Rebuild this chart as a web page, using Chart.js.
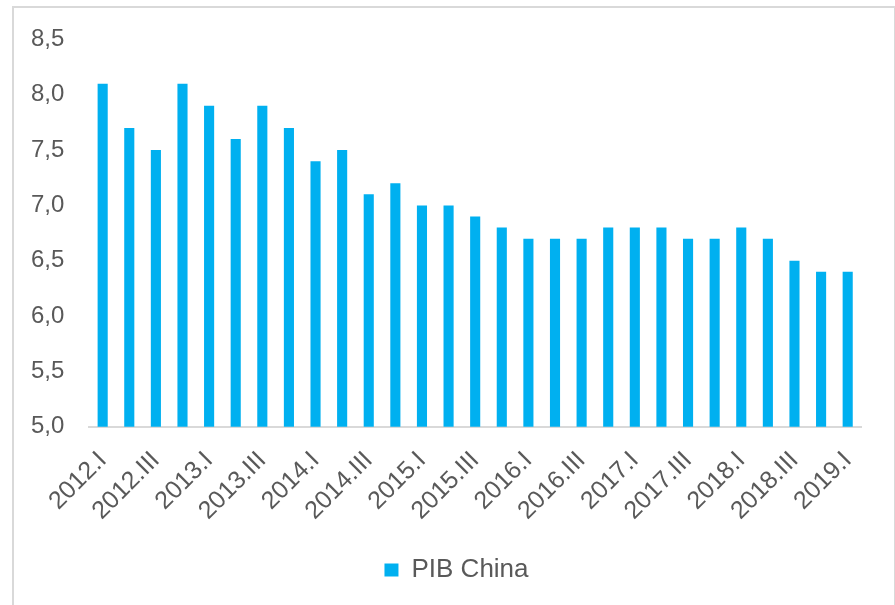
<!DOCTYPE html>
<html>
<head>
<meta charset="utf-8">
<script src="https://cdn.jsdelivr.net/npm/chart.js@4.4.0/dist/chart.umd.min.js"></script>
<style>
	body { margin: 0; background: #fff; overflow: hidden; }
	#frame { position: absolute; left: 12px; top: 6px; width: 880px; height: 640px; border: 2px solid #d9d9d9; }
	#wrap { position: absolute; left: 0; top: 0; width: 895px; height: 605px; }
</style>
</head>
<body>
<div id="frame"></div>
<div id="wrap"><canvas id="myChart" width="895" height="605"></canvas></div>
<script>
var quarters = ["2012.I", "2012.II", "2012.III", "2012.IV",
	"2013.I", "2013.II", "2013.III", "2013.IV",
	"2014.I", "2014.II", "2014.III", "2014.IV",
	"2015.I", "2015.II", "2015.III", "2015.IV",
	"2016.I", "2016.II", "2016.III", "2016.IV",
	"2017.I", "2017.II", "2017.III", "2017.IV",
	"2018.I", "2018.II", "2018.III", "2018.IV",
	"2019.I"]
var pibChina = [8.1, 7.7, 7.5, 8.1, 7.9, 7.6, 7.9, 7.7, 7.4, 7.5, 7.1, 7.2, 7.0, 7.0, 6.9,
	6.8, 6.7, 6.7, 6.7, 6.8, 6.8, 6.8, 6.7, 6.7, 6.8, 6.7, 6.5, 6.4, 6.4]
var yMin = 5.0
var yMax = 8.5
var yStep = 0.5

var grey = "#595959"
var fontFamily = "'Liberation Sans', Arial, sans-serif"

// nudge the legend a little to the right, like the original
var legendShift = {
	id: "legendShift",
	afterLayout: function (chart) {
		chart.legend.left += 23
		chart.legend.right += 23
	},
}

var ctx = document.getElementById("myChart").getContext("2d")
var myChart = new Chart(ctx, {
	type: "bar",
	data: {
		labels: quarters,
		datasets: [
			{
				label: "PIB China",
				data: pibChina,
				backgroundColor: "#00b0f0",
				borderWidth: 0,
				categoryPercentage: 1,
				barPercentage: 0.38,
			},
		],
	},
	options: {
		responsive: false,
		animation: false,
		layout: {
			padding: {left: 6, right: 34, top: 14, bottom: 12},
		},
		scales: {
			x: {
				grid: {display: false, drawTicks: false},
				border: {display: true, color: "#d9d9d9", width: 2},
				ticks: {
					color: grey,
					font: {family: fontFamily, size: 25},
					autoSkip: false,
					maxRotation: 45,
					minRotation: 45,
					padding: 19,
					callback: function (value, index) {
						return index % 2 === 0 ? quarters[index] : ""
					},
				},
			},
			y: {
				min: yMin,
				max: yMax,
				grid: {display: false, drawTicks: false},
				border: {display: false},
				ticks: {
					stepSize: yStep,
					color: grey,
					padding: 25,
					font: {family: fontFamily, size: 24},
					callback: function (value) {
						return value.toFixed(1).replace(".", ",")
					},
				},
			},
		},
		plugins: {
			legend: {
				display: true,
				position: "bottom",
				labels: {
					color: grey,
					boxWidth: 14,
					boxHeight: 13,
					padding: 12,
					font: {family: fontFamily, size: 26},
				},
			},
			tooltip: {enabled: false},
		},
	},
	plugins: [legendShift],
})
</script>
</body>
</html>
